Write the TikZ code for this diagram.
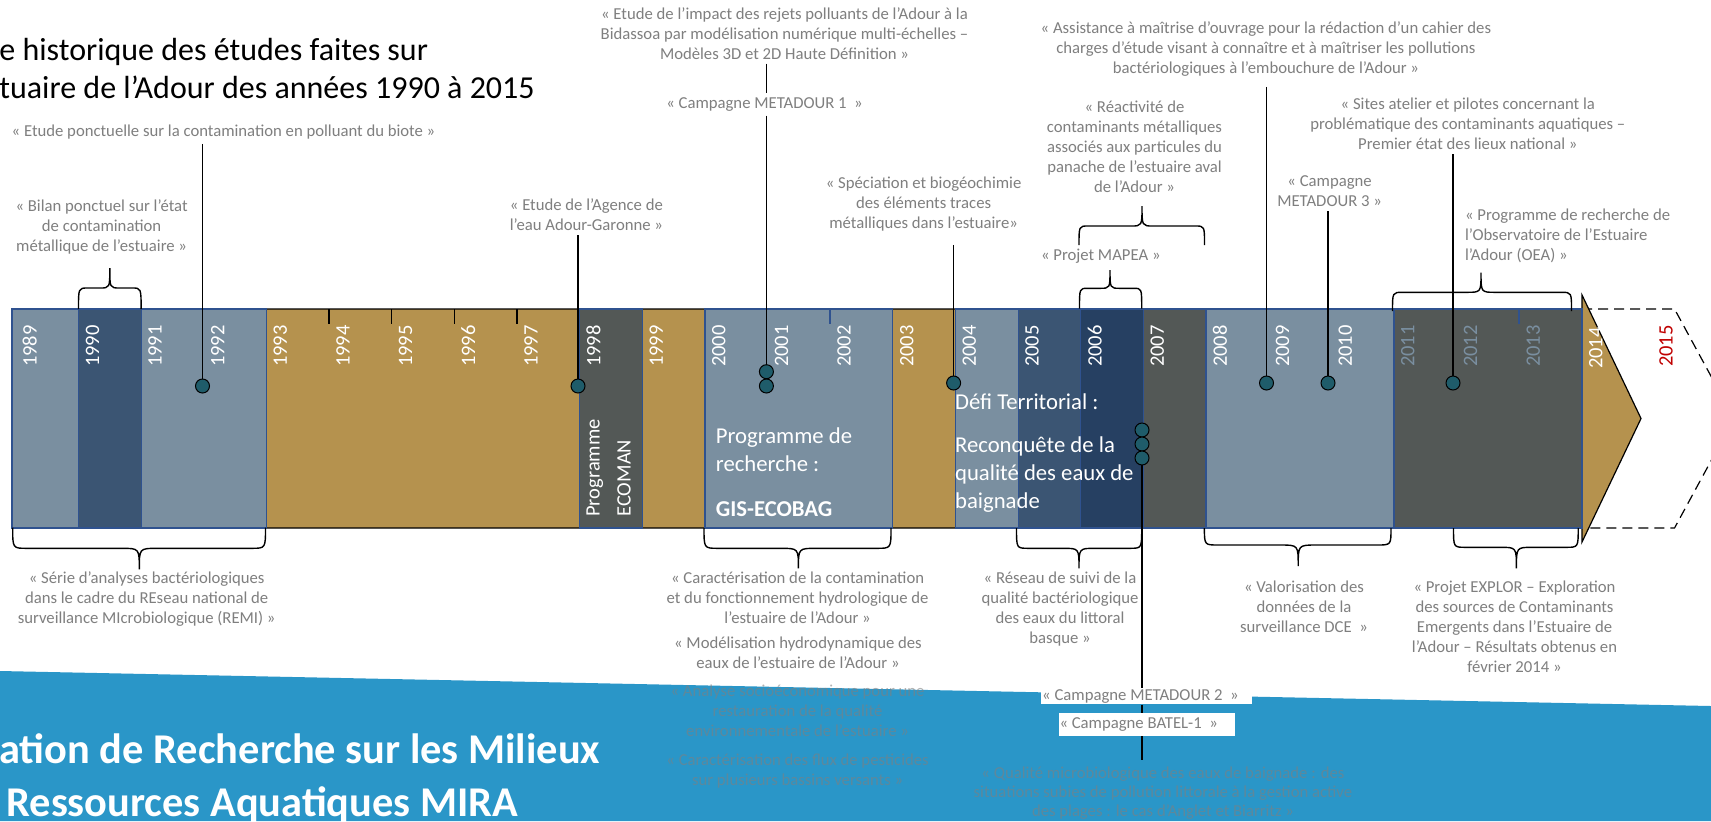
\documentclass[tikz,border=0pt]{standalone}
\usepackage{fontspec}
\setmainfont{Carlito}
\definecolor{anngrey}{RGB}{127,127,127}
\definecolor{tanband}{RGB}{181,146,78}
\definecolor{lbg}{RGB}{122,143,160}
\definecolor{mblue}{RGB}{59,85,115}
\definecolor{dblue}{RGB}{38,64,98}
\definecolor{dgrey}{RGB}{83,88,86}
\definecolor{bord}{RGB}{47,82,143}
\definecolor{dotteal}{RGB}{31,92,106}
\definecolor{bannerblue}{RGB}{42,150,200}
\definecolor{yred}{RGB}{192,0,0}

\newcommand{\mybrace}[8]{%
  \draw[brc] (#1,#4) .. controls (#1,#5) .. ({#1+#7},#5) -- ({#2-#8},#5)
    .. controls (#2,#5) .. (#2,#6) .. controls (#2,#5) .. ({#2+#8},#5)
    -- ({#3-#7},#5) .. controls (#3,#5) .. (#3,#4);}

\begin{document}
\begin{tikzpicture}[x=0.5pt,y=-0.5pt,
  ann/.style={text=anngrey, font=\fontsize{8.35}{10}\selectfont, align=center, inner sep=2pt, anchor=base},
  faint/.style={ann, text opacity=0.6},
  yrlab/.style={rotate=90, anchor=east, inner sep=0pt, font=\fontsize{10.25}{12}\selectfont, text=white},
  dotn/.style={circle, fill=dotteal, draw=black, line width=0.5pt, minimum size=7pt, inner sep=0pt},
  conn/.style={draw=black, line width=0.7pt},
  brc/.style={draw=black, line width=0.7pt},
  ov/.style={draw=bord, line width=0.6pt},
  bandtxt/.style={font=\fontsize{11.35}{14}\selectfont, text=white, inner sep=0pt, align=left},
  boxlab/.style={text=anngrey, font=\fontsize{8.35}{10}\selectfont, fill=white, anchor=west, inner xsep=0.4pt, inner ysep=0pt},
  bantxt/.style={anchor=base west, inner sep=0pt, text=white, font=\fontsize{21.2}{26}\selectfont\bfseries},
  ttl/.style={anchor=base west, inner sep=0pt, font=\fontsize{16}{18.5}\selectfont},
]
\useasboundingbox (0,0) rectangle (1711,821);
\clip (0,0) rectangle (1711,821);
\fill[white] (0,0) rectangle (1711,821);
% banner
\fill[bannerblue] (0,671) -- (1711,706) -- (1711,821) -- (0,821) -- cycle;
\node[bantxt] (ban1) at (-1,763.3) {ation de Recherche sur les Milieux};
\node[bantxt] (ban2) at (6,816.7) {Ressources Aquatiques MIRA};
% title
\node[ttl] (t1) at (-1,60) {e historique des études faites sur};
\node[ttl] (t2) at (-1,98) {tuaire de l’Adour des années 1990 à 2015};
% dashed outline
\draw[dash pattern=on 5pt off 3pt, line width=0.6pt] (1582,309) -- (1674.5,309) -- (1734,418.5) -- (1674.5,528) -- (1582,528);
% band with arrow
\filldraw[fill=tanband, draw=black, line width=0.6pt] (12,309) -- (1582,309) -- (1582,295) -- (1641,418.5) -- (1582,542) -- (1582,528) -- (12,528) -- cycle;
% overlays
\filldraw[ov, fill=lbg] (12,309) rectangle (266.4,528);
\filldraw[ov, fill=mblue] (78.5,309) rectangle (141.1,528);
\filldraw[ov, fill=dgrey] (579.6,309) rectangle (642.2,528);
\filldraw[ov, fill=lbg] (704.9,309) rectangle (892.8,528);
\filldraw[ov, fill=lbg] (955.4,309) rectangle (1018.1,528);
\filldraw[ov, fill=mblue] (1018.1,309) rectangle (1080.7,528);
\filldraw[ov, fill=dblue] (1080.7,309) rectangle (1143.4,528);
\filldraw[ov, fill=dgrey] (1143.4,309) rectangle (1206,528);
\filldraw[ov, fill=lbg] (1206,309) rectangle (1394,528);
\filldraw[ov, fill=dgrey] (1394,309) rectangle (1582,528);
% ticks
\foreach \t in {1994,...,1997}{
  \pgfmathsetmacro{\xx}{15.8+62.64*(\t-1989)}
  \draw[line width=0.7pt] (\xx,309) -- (\xx,324);
}
\foreach \t in {2002,2013}{
  \pgfmathsetmacro{\xx}{15.8+62.64*(\t-1989)}
  \draw[line width=0.7pt, draw=bord] (\xx,310) -- (\xx,324);
}
% year labels
\foreach \yr in {1989,...,2010}{
  \pgfmathsetmacro{\xx}{29.8+62.64*(\yr-1989)}
  \node[yrlab] (y\yr) at (\xx,325) {\yr};
}
\foreach \yr in {2011,2012,2013}{
  \pgfmathsetmacro{\xx}{29.8+62.64*(\yr-1989)}
  \node[yrlab, text=lbg] (y\yr) at (\xx,325) {\yr};
}
\node[yrlab] (y2014) at (1595.8,327) {2014};
\node[yrlab, text=yred] (y2015) at (1666,325) {2015};
% band texts
\node[bandtxt, rotate=90, anchor=north west, font=\fontsize{10.25}{15.5}\selectfont] (ecoman) at (586,517) {Programme\\ECOMAN};
\node[bandtxt, anchor=base west] (gis) at (715.5,516.5) {Programme de\\recherche :\\[8.3pt]\textbf{GIS-ECOBAG}};
\node[bandtxt, anchor=base west] (defi) at (954.7,508.5) {Défi Territorial :\\[7.7pt]Reconquête de la\\qualité des eaux de\\baignade};
% annotations above (anchor = baseline of last line)
\node[ann] (a1) at (223.6,136.7) {« Etude ponctuelle sur la contamination en polluant du biote »};
\node[ann] (a2) at (101.6,251.7) {« Bilan ponctuel sur l’état\\de contamination\\métallique de l’estuaire »};
\node[ann] (a3) at (586.4,230.5) {« Etude de l’Agence de\\l’eau Adour-Garonne »};
\node[ann] (a4) at (784.5,59) {« Etude de l’impact des rejets polluants de l’Adour à la\\Bidassoa par modélisation numérique multi-échelles –\\Modèles 3D et 2D Haute Définition »};
\node[ann, fill=white] (a5) at (764.5,108.3) {« Campagne METADOUR 1~~»};
\node[ann] (a6) at (923.6,228.3) {« Spéciation et biogéochimie\\des éléments traces\\métalliques dans l’estuaire»};
\node[ann] (a7) at (1265.9,73.5) {« Assistance à maîtrise d’ouvrage pour la rédaction d’un cahier des\\charges d’étude visant à connaître et à maîtriser les pollutions\\bactériologiques à l’embouchure de l’Adour »};
\node[ann] (a8) at (1134.5,192.7) {« Réactivité de\\contaminants métalliques\\associés aux particules du\\panache de l’estuaire aval\\de l’Adour »};
\node[ann] (a9) at (1100.8,260) {« Projet MAPEA »};
\node[ann] (a10) at (1329.6,206.7) {« Campagne\\METADOUR 3 »};
\node[ann] (a11) at (1467.8,149.5) {« Sites atelier et pilotes concernant la\\problématique des contaminants aquatiques –\\Premier état des lieux national »};
\node[ann, anchor=base west, align=left] (a12) at (1460.7,260) {« Programme de recherche de\\l’Observatoire de l’Estuaire\\l’Adour (OEA) »};
% annotations below
\node[ann] (b1) at (146.7,623.3) {« Série d’analyses bactériologiques\\dans le cadre du REseau national de\\surveillance MIcrobiologique (REMI) »};
\node[ann] (b2) at (797.6,623.3) {« Caractérisation de la contamination\\et du fonctionnement hydrologique de\\l’estuaire de l’Adour »};
\node[ann] (b3) at (798,668.3) {« Modélisation hydrodynamique des\\eaux de l’estuaire de l’Adour »};
\node[faint] (b4) at (797.6,736.7) {« Analyse socioéconomique pour une\\restauration de la qualité\\environnementale de l’estuaire »};
\node[faint] (b5) at (797.6,785) {« Caractérisation des flux de pesticides\\sur plusieurs bassins versants »};
\node[ann] (b6) at (1060,643.3) {« Réseau de suivi de la\\qualité bactériologique\\des eaux du littoral\\basque »};
\node[boxlab, minimum height=8pt] (b7) at (1041,696.3) {« Campagne METADOUR 2~~»\hspace*{6.5pt}};
\node[boxlab, minimum height=11.35pt] (b8) at (1058.3,724.7) {« Campagne BATEL-1~~»\hspace*{8pt}};
\node[faint, font=\fontsize{8.35}{9.5}\selectfont] (b9) at (1163,816.3) {« Qualité microbiologique des eaux de baignade : des\\situations subies de pollution littorale à la gestion active\\des plages : le cas d’Anglet et Biarritz »};
\node[ann] (b10) at (1304,632.7) {« Valorisation des\\données de la\\surveillance DCE~~»};
\node[ann] (b11) at (1514.5,672.7) {« Projet EXPLOR – Exploration\\des sources de Contaminants\\Emergents dans l’Estuaire de\\l’Adour – Résultats obtenus en\\février 2014 »};
% connector end points
\coordinate (p1992) at (202.5,386);
\coordinate (p1998) at (578,386);
\coordinate (p2001a) at (766.4,371.7);
\coordinate (p2001b) at (766.4,386);
\coordinate (p2004) at (953.6,383);
\coordinate (p2007a) at (1142,430);
\coordinate (p2007b) at (1142,444);
\coordinate (p2007c) at (1142,458);
\coordinate (p2009) at (1266.5,383);
\coordinate (p2010) at (1328,383);
\coordinate (p2012) at (1453,383);
\coordinate (e2007) at (1142,760);
% connectors
\draw[conn] (p1992 |- a1.south) -- (p1992);
\draw[conn] (p1998 |- a3.south) -- (p1998);
\draw[conn] (p2001a |- a4.south) -- (p2001a |- a5.north);
\draw[conn] (p2001a |- a5.south) -- (p2001a);
\draw[conn] (p2004 |- a6.south) ++(0,9.5) -- (p2004);
\draw[conn] (p2009 |- a7.south) ++(0,6) -- (p2009);
\draw[conn] (p2010 |- a10.south) -- (p2010);
\draw[conn] (p2012 |- a11.south) -- (p2012);
\draw[conn] (p2007c) -- (p2007c |- b7.north);
\draw[conn] (p2007c |- b7.south) -- (p2007c |- b8.north);
\draw[conn] (p2007c |- b8.south) -- (e2007);
% dots
\foreach \p in {1992,1998,2001a,2001b,2004,2007a,2007b,2007c,2009,2010,2012}
  \node[dotn] (d\p) at (p\p) {};
% braces
\mybrace{78.5}{109.8}{141.1}{309}{288}{268}{9}{10}
\mybrace{1079}{1142}{1204.5}{245}{226}{206}{9}{11}
\mybrace{1079.5}{1110}{1141.7}{308.5}{288.3}{270}{8}{10}
\mybrace{1392.5}{1481}{1571.5}{311}{292.3}{272.7}{10}{14}
\mybrace{12.7}{139.3}{265.5}{527.7}{548.3}{569.3}{14}{18}
\mybrace{704}{798.4}{891}{528}{548.3}{568.3}{14}{18}
\mybrace{1016.5}{1079}{1141.7}{528}{548.3}{568.3}{12}{16}
\mybrace{1204.4}{1298.2}{1391}{528}{545}{566}{14}{18}
\mybrace{1453.5}{1516.4}{1578.2}{528}{547.3}{568.3}{12}{16}
\end{tikzpicture}
\end{document}
